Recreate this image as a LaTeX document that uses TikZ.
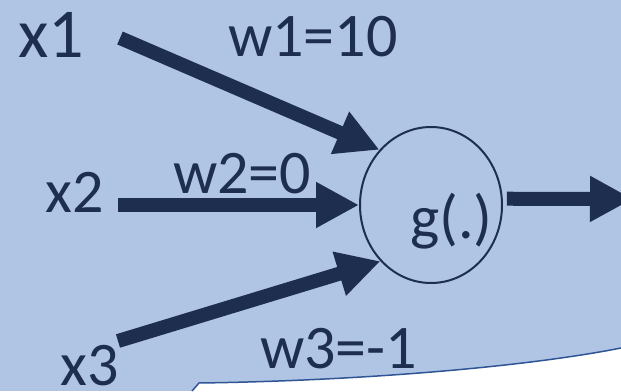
\documentclass[tikz,border=0pt]{standalone}
\usepackage{fontspec}
\setmainfont{Carlito}
\usetikzlibrary{arrows.meta, positioning, shapes}
\definecolor{bgblue}{RGB}{176,196,228}
\definecolor{navy}{RGB}{30,46,78}
\definecolor{rimblue}{RGB}{47,85,151}

\begin{document}
\begin{tikzpicture}[
    x=1pt, y=-1pt,
    every node/.style={text=navy, inner sep=0pt, anchor=base west},
    inlabel/.style={font=\fontsize{62}{70}\selectfont},
    wlabel/.style={font=\fontsize{62}{70}\selectfont},
    unit/.style={draw=navy, line width=2pt, ellipse, anchor=center,
                 minimum width=142pt, minimum height=156pt},
    arr/.style={-{Triangle[length=43pt, width=43pt]}, draw=navy, line width=14pt}
]
\useasboundingbox (0,0) rectangle (621,391);
\clip (0,0) rectangle (621,391);
\fill[bgblue] (0,0) rectangle (621,391);
\fill[white] (192,391) -- (199,383) .. controls (350,381) and (520,368) .. (621,348)
    -- (621,391) -- cycle;
\draw[rimblue, line width=1.5pt] (192,391) -- (199,383)
    .. controls (350,381) and (520,368) .. (621,348);

\node[inlabel, font=\fontsize{70}{78}\selectfont] (x1) at (18,57)  {x1};
\node[inlabel] (x2) at (45,212)  {x2};
\node[inlabel] (x3) at (60,385)  {x3};
\node[wlabel]  (w1) at (228,56)  {w1=10};
\node[wlabel]  (w2) at (173,193) {w2=0};
\node[wlabel]  (w3) at (260,368) {w3=-1};
\node[unit]    (g)  at (431,205) {};
\node[wlabel]  (gt) at (410,238) {g(.)};

\coordinate (t1) at (120,38);
\coordinate (t2) at (118,205);
\coordinate (t3) at (118,341);
\coordinate (y)  at (633,199);

\draw[arr] (t1) -- (g.133);
\draw[arr] (t2) -- (g.west);
\draw[arr] (t3) -- (g.228);
\draw[arr, shorten <=4pt] (g.5) -- (y);
\end{tikzpicture}
\end{document}
